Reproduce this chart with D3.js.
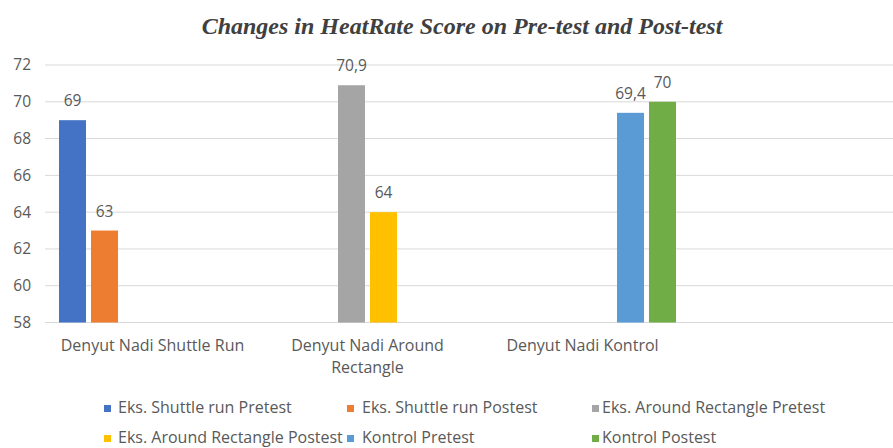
<!DOCTYPE html>
<html>
<head>
<meta charset="utf-8">
<script src="https://cdn.jsdelivr.net/npm/d3@7"></script>
<style>
  body { margin: 0; background: #fff; }
  svg { display: block; }
  .tick text, .cat-label, .legend text, .value-label { font-family: "Open Sans", sans-serif; fill: #595959; }
</style>
</head>
<body>
<div id="chart"></div>
<script>
// chart data
const categories = ["Denyut Nadi Shuttle Run", "Denyut Nadi Around Rectangle", "Denyut Nadi Kontrol"]
const seriesNames = ["Eks. Shuttle run Pretest", "Eks. Shuttle run Postest", "Eks. Around Rectangle Pretest",
  "Eks. Around Rectangle Postest", "Kontrol Pretest", "Kontrol Postest"]
const shuttlePre = [69, null, null]
const shuttlePost = [63, null, null]
const aroundPre = [null, 70.9, null]
const aroundPost = [null, 64, null]
const kontrolPre = [null, null, 69.4]
const kontrolPost = [null, null, 70]
const yTicks = [58, 60, 62, 64, 66, 68, 70, 72]
const colors = ["#4472C4", "#ED7D31", "#A5A5A5", "#FFC000", "#5B9BD5", "#70AD47"]

const seriesValues = [shuttlePre, shuttlePost, aroundPre, aroundPost, kontrolPre, kontrolPost]

const width = 893, height = 448

let svg = d3.select("#chart").append("svg")
  .attr("width", width)
  .attr("height", height)

// title
svg.append("text")
  .attr("x", 462)
  .attr("y", 34)
  .attr("text-anchor", "middle")
  .style("font-family", "'Liberation Serif', 'Times New Roman', serif")
  .style("font-weight", "bold")
  .style("font-style", "italic")
  .style("font-size", "24px")
  .style("fill", "#404040")
  .text("Changes in HeatRate Score on Pre-test and Post-test")

// scales
let y = d3.scaleLinear()
  .domain([58, 72])
  .range([322.5, 65])

let x0 = d3.scaleBand()
  .domain(categories)
  .range([45, 690])

let x1 = d3.scaleBand()
  .domain(seriesNames)
  .range([14, 201])
  .paddingInner(0.156)

// gridlines
svg.append("g").selectAll("line").data(yTicks).enter().append("line")
  .attr("x1", 45)
  .attr("x2", width)
  .attr("y1", d => y(d))
  .attr("y2", d => y(d))
  .attr("stroke", "#d9d9d9")
  .attr("stroke-width", 1)

// y axis labels
let yAxis = svg.append("g")
  .attr("transform", "translate(31,0)")
  .call(d3.axisLeft(y).tickValues(yTicks).tickSize(0).tickPadding(0))
yAxis.select(".domain").remove()
yAxis.selectAll("text").style("font-size", "15.5px")

// bars
let bars = []
seriesValues.forEach((vals, s) => {
  vals.forEach((v, c) => {
    if (v != null) bars.push({series: seriesNames[s], cat: categories[c], value: v, color: colors[s]})
  })
})

svg.append("g").selectAll("rect").data(bars).enter().append("rect")
  .attr("x", d => x0(d.cat) + x1(d.series))
  .attr("y", d => y(d.value))
  .attr("width", x1.bandwidth())
  .attr("height", d => y(58) - y(d.value))
  .attr("fill", d => d.color)

// value labels
svg.append("g").selectAll("text").data(bars).enter().append("text")
  .attr("class", "value-label")
  .attr("x", d => x0(d.cat) + x1(d.series) + x1.bandwidth() / 2)
  .attr("y", d => y(d.value) - 14)
  .attr("text-anchor", "middle")
  .style("font-size", "15.5px")
  .text(d => String(d.value).replace(".", ","))

// category labels, wrapped
let catG = svg.append("g")
categories.forEach(c => {
  let cx = x0(c) + x0.bandwidth() / 2
  let t = catG.append("text")
    .attr("class", "cat-label")
    .attr("x", cx)
    .attr("y", 351)
    .attr("text-anchor", "middle")
    .style("font-size", "16px")
  let words = c.split(" "), line = []
  let tspan = t.append("tspan").attr("x", cx).attr("dy", 0)
  words.forEach(w => {
    line.push(w)
    tspan.text(line.join(" "))
    if (tspan.node().getComputedTextLength() > 200 && line.length > 1) {
      line.pop()
      tspan.text(line.join(" "))
      line = [w]
      tspan = t.append("tspan").attr("x", cx).attr("dy", 22).text(w)
    }
  })
})

// legend
const legendCols = [[104, 118], [347, 362], [592, 602]]
const legendRows = [407.5, 437.5]
let legend = svg.append("g").attr("class", "legend")
seriesNames.forEach((name, i) => {
  let col = legendCols[i % 3], ly = legendRows[Math.floor(i / 3)]
  legend.append("rect")
    .attr("x", col[0])
    .attr("y", ly - 2.5)
    .attr("width", 7)
    .attr("height", 7)
    .attr("fill", colors[i])
  legend.append("text")
    .attr("x", col[1])
    .attr("y", ly + 5.5)
    .style("font-size", "16px")
    .text(name)
})
</script>
</body>
</html>
